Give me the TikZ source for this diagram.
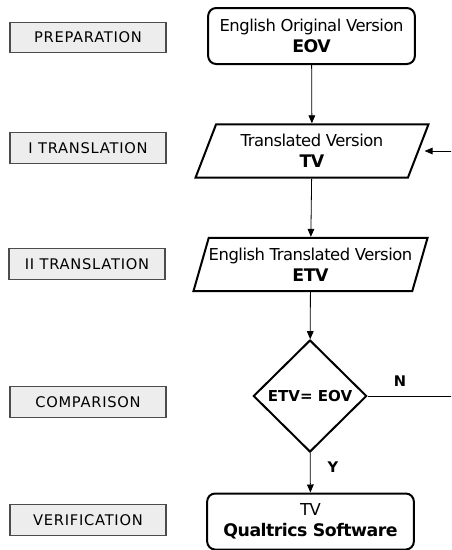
\documentclass[tikz,border=0pt]{standalone}
\usepackage{fontspec}
\setmainfont{DejaVu Sans}
\usetikzlibrary{shapes.geometric, arrows.meta, positioning}

\newcommand{\boxfont}{\fontsize{12.3}{15.5}\selectfont\addfontfeatures{LetterSpace=-3}}
\newcommand{\keyword}[1]{{\fontsize{13}{15.5}\selectfont\bfseries #1}}

\tikzset{
  stage/.style={draw=black!70, fill=black!7, line width=0.8pt, minimum width=117pt, minimum height=23pt, inner sep=0pt, font=\fontsize{11}{13}\selectfont\addfontfeatures{LetterSpace=5}},
  term/.style={draw, line width=1.5pt, rounded corners=6pt, minimum width=155pt, minimum height=42pt, align=center, font=\boxfont},
  io/.style={draw, line width=1.5pt, trapezium, trapezium left angle=70, trapezium right angle=110, trapezium stretches=true, minimum width=175pt, minimum height=40pt, inner xsep=0pt, align=center, font=\boxfont},
  decide/.style={draw, diamond, line width=1.5pt, minimum width=85pt, minimum height=84pt, inner sep=0pt, font=\fontsize{11.3}{14}\selectfont\bfseries},
  flow/.style={-{Triangle[length=6pt,width=5pt]}, line width=0.6pt},
  tag/.style={font=\fontsize{11}{13}\selectfont\bfseries},
}

\begin{document}
\begin{tikzpicture}[x=0.75pt, y=-0.75pt]
\clip (0,0) rectangle (451,550);

% stages
\node[stage] (prep) at (88,37.5) {PREPARATION};
\node[stage] (itr) at (88,148) {I TRANSLATION};
\node[stage] (iitr) at (87,264) {II TRANSLATION};
\node[stage] (comp) at (88,402) {COMPARISON};
\node[stage] (verif) at (88,520) {VERIFICATION};

% flow chart
\node[term] (eov) at (311.5,36) {English Original Version\\\keyword{EOV}};
\node[io] (tv) at (312,151) {Translated Version\\\keyword{TV}};
\node[io] (etv) at (310.5,264.5) {English Translated Version\\\keyword{ETV}};
\node[decide] (cmp) at (310,396) {ETV= EOV};
\node[term] (qs) at (310.5,521.5) {TV\\\keyword{Qualtrics Software}};

\draw[flow] (eov) -- (tv);
\draw[flow] (tv) -- (etv);
\draw[flow] (etv) -- (cmp);
\draw[flow] (cmp) -- (qs);
\node[tag] (yes) at (333,467) {Y};

% back to translation
\draw[flow, shorten >=4pt] (cmp.east) -- ++(100,0) |- (tv.east);
\node[tag] (no) at (400,381) {N};
\end{tikzpicture}
\end{document}
